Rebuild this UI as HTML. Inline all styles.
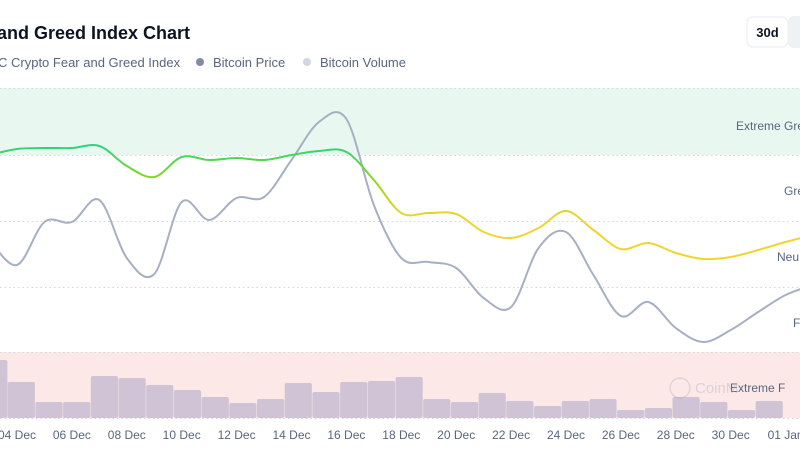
<!DOCTYPE html>
<html><head><meta charset="utf-8"><style>
body{margin:0;width:800px;height:445px;overflow:hidden;background:#fff;font-family:"Liberation Sans",sans-serif;}
</style></head><body>
<svg id="s" width="800" height="445" viewBox="0 0 800 445" xmlns="http://www.w3.org/2000/svg">
<defs>
<linearGradient id="g" gradientUnits="userSpaceOnUse" x1="0" y1="145" x2="0" y2="250">
<stop offset="0" stop-color="#2ad47e"/><stop offset="0.35" stop-color="#8fd80e"/><stop offset="0.7" stop-color="#eed530"/><stop offset="1" stop-color="#f3d42f"/>
</linearGradient>
</defs>
<text x="-3" y="39" font-size="18" font-weight="bold" fill="#0d1421">and Greed Index Chart</text>
<g font-size="13" fill="#58667e">
<text x="-2" y="67">C Crypto Fear and Greed Index</text>
<circle cx="200" cy="62" r="4" fill="#858ca2"/>
<text x="213" y="67">Bitcoin Price</text>
<circle cx="307" cy="62" r="4" fill="#cfd6e4"/>
<text x="320" y="67">Bitcoin Volume</text>
</g>
<rect x="788" y="16" width="20" height="32" rx="6" fill="#eff2f5"/>
<rect x="747" y="17" width="41" height="30" rx="6" fill="#fff" stroke="#eff2f5" stroke-width="1.5"/>
<text x="767.5" y="37" font-size="13" font-weight="bold" fill="#0d1421" text-anchor="middle">30d</text>
<rect x="0" y="88" width="800" height="67" fill="#e8f8f1"/>
<rect x="0" y="352" width="800" height="66" fill="#fde8e8"/>
<g stroke="#cfd6e4" stroke-dasharray="1.5 3" stroke-width="1">
<line x1="0" x2="800" y1="88.5" y2="88.5"/><line x1="0" x2="800" y1="155.5" y2="155.5"/>
<line x1="0" x2="800" y1="221.5" y2="221.5"/><line x1="0" x2="800" y1="287.5" y2="287.5"/>
<line x1="0" x2="800" y1="352.5" y2="352.5"/><line x1="0" x2="800" y1="418.5" y2="418.5"/>
</g>
<g id="bars" fill="#d0c3d5"></g>
<g font-size="12" fill="#58667e">
<text x="736" y="130">Extreme Gre</text>
<text x="784" y="195">Gre</text>
<text x="777" y="261">Neu</text>
<text x="793" y="327">F</text>
<text x="730" y="392">Extreme F</text>
</g>
<g opacity="0.35" fill="none" stroke="#a6b0c3" stroke-width="1.5"><circle cx="680" cy="388" r="10"/></g>
<text x="695" y="393" font-size="15" fill="#a6b0c3" opacity="0.4">CoinM</text>
<path id="pp" fill="none" stroke="#a6b0c3" stroke-width="2"/>
<path id="ip" fill="none" stroke="url(#g)" stroke-width="2"/>
<g id="xl" font-size="12" fill="#58667e" text-anchor="middle"></g>
</svg>
<script>
var xs=[],d;for(d=-1;d<=29;d++)xs.push(17+27.45*d);
var iy=[155,149,148,148,146,166,177,157,160,158,160,155,151,152,180,213,213,214,232,238,228,211,230,249,243,253,259,257,250,242,235];
var py=[240,265,222,222,200,258,274,202,220,198,197,160,122,119,205,258,262,268,298,307,248,232,275,316,302,328,342,330,312,295,285];
function path(ys){var p="M"+xs[0]+","+ys[0];for(var i=0;i<xs.length-1;i++){var x0=xs[Math.max(i-1,0)],y0=ys[Math.max(i-1,0)],x1=xs[i],y1=ys[i],x2=xs[i+1],y2=ys[i+1],x3=xs[Math.min(i+2,xs.length-1)],y3=ys[Math.min(i+2,xs.length-1)];
p+=" C"+(x1+(x2-x0)/6)+","+(y1+(y2-y0)/6)+" "+(x2-(x3-x1)/6)+","+(y2-(y3-y1)/6)+" "+x2+","+y2;}return p;}
document.getElementById("pp").setAttribute("d",path(py));
document.getElementById("ip").setAttribute("d",path(iy));
var bt=[360,382,402,402,376,378,385,390,397,403,399,383,392,382,381,377,399,402,393,401,406,401,399,410,408,397,402,410,401];
var g=document.getElementById("bars"),h="";
for(var i=0;i<bt.length;i++){var x=i==0?-20:7.7+(i-1)*27.7,w=i==0?27.4:27.2;h+='<rect x="'+x+'" y="'+bt[i]+'" width="'+w+'" height="'+(418-bt[i])+'" rx="2"/>';}
g.innerHTML=h;
var lab=["04 Dec","06 Dec","08 Dec","10 Dec","12 Dec","14 Dec","16 Dec","18 Dec","20 Dec","22 Dec","24 Dec","26 Dec","28 Dec","30 Dec","01 Jan"],s="";
for(i=0;i<lab.length;i++)s+='<text x="'+(17+54.9*i)+'" y="439">'+lab[i]+'</text>';
document.getElementById("xl").innerHTML=s;
</script>
</body></html>
